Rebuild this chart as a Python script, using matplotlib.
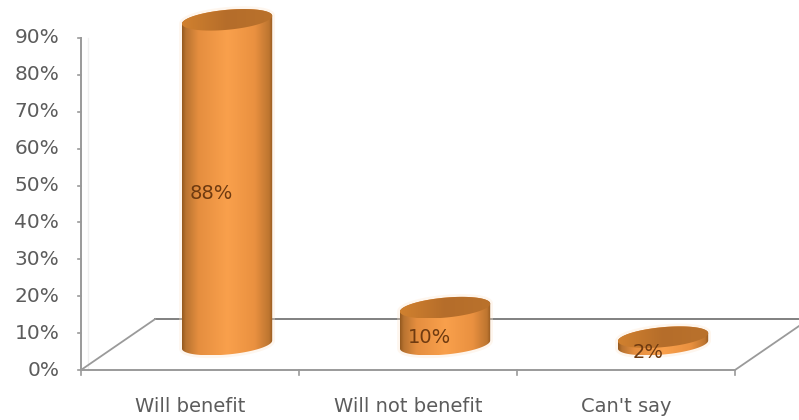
import numpy as np
import matplotlib
matplotlib.use('Agg')
import matplotlib.pyplot as plt
from matplotlib.colors import LinearSegmentedColormap
from matplotlib.patches import Polygon

categories = ["Will benefit", "Will not benefit", "Can't say"]
values = [88, 10, 2]
value_labels = ["88%", "10%", "2%"]
y_ticks = [0, 10, 20, 30, 40, 50, 60, 70, 80, 90]

PX_X = 218.0   # pixels per category
PX_Y = 3.69    # pixels per percent
DEPTH_X = 0.34
DEPTH_Y = 13.8
HALF_W = 0.207
ELL_B = 10.0 / PX_Y
ELL_S = 4.0 / PX_Y

GRAY = '#9a9a9a'
TEXT = '#5c5c5c'

body_cmap = LinearSegmentedColormap.from_list('body', [
    (0.0, '#94591f'), (0.04, '#b87330'), (0.18, '#e58e3f'),
    (0.5, '#f9a04c'), (0.8, '#ea9140'), (0.96, '#bd7530'), (1.0, '#94591f')])
top_cmap = LinearSegmentedColormap.from_list('top', [
    (0.0, '#d1812f'), (0.5, '#b56d2a'), (1.0, '#ba722c')])


def ellipse(cx, cy, start, stop, n=60):
    t = np.linspace(start, stop, n)
    return cx + HALF_W * np.cos(t), cy + ELL_B * np.sin(t) + ELL_S * np.cos(t)


def gradient(ax, cmap, outline, cx, zorder):
    ys = outline[:, 1]
    poly = Polygon(outline, closed=True, fc='none', ec='none', zorder=zorder)
    ax.add_patch(poly)
    im = ax.imshow(np.linspace(0, 1, 256)[None, :], cmap=cmap, aspect='auto',
                   extent=(cx - HALF_W, cx + HALF_W, ys.min(), ys.max()),
                   zorder=zorder, interpolation='bilinear')
    im.set_clip_path(poly)


def cylinder(ax, pos, value):
    cx = pos + DEPTH_X / 2
    base = DEPTH_Y / 2
    top = base + value
    bx, by = ellipse(cx, base, np.pi, 2 * np.pi)
    tx, ty = ellipse(cx, top, 0, np.pi)
    body = np.column_stack((np.r_[bx, tx], np.r_[by, ty]))
    # soft glow from the jpeg original
    ax.add_patch(Polygon(body, closed=True, fc='none', ec='#fde6cf', lw=4,
                         alpha=0.35, zorder=2))
    gradient(ax, body_cmap, body, cx, 3)
    ex, ey = ellipse(cx, top, 0, 2 * np.pi, 120)
    gradient(ax, top_cmap, np.column_stack((ex, ey)), cx, 4)


fig = plt.figure(figsize=(7.99, 4.2), dpi=100)
ax = fig.add_axes([0, 0, 1, 1])

# floor and wall
ax.plot([-0.5, 2.5], [0, 0], color=GRAY, lw=1.4, zorder=1)
ax.plot([-0.5 + DEPTH_X, 2.5 + DEPTH_X], [DEPTH_Y, DEPTH_Y], color='#808080', lw=1.4, zorder=1)
ax.plot([-0.5, -0.5 + DEPTH_X], [0, DEPTH_Y], color=GRAY, lw=1.3, zorder=1)
ax.plot([2.5, 2.5 + DEPTH_X], [0, DEPTH_Y], color=GRAY, lw=1.3, zorder=1)
ax.plot([-0.5, -0.5], [0, y_ticks[-1]], color=GRAY, lw=1.4, zorder=1)
ax.plot([-0.47, -0.47], [0, y_ticks[-1]], color='#f0f0f0', lw=1, zorder=0)

for v in y_ticks:
    ax.plot([-0.515, -0.5], [v, v], color=GRAY, lw=1.2, zorder=1)
    ax.text(-0.6, v, f'{v}%', ha='right', va='center', fontsize=14.5,
            color=TEXT, family='DejaVu Sans')
for b in [-0.5, 0.5, 1.5, 2.5]:
    ax.plot([b, b], [0, -1.3], color=GRAY, lw=1.2, zorder=1)

for i, (cat, val, lab) in enumerate(zip(categories, values, value_labels)):
    cylinder(ax, i, val)
    ax.text(i + DEPTH_X / 2 - 0.07, val / 2 + 3.8, lab, ha='center', va='center',
            fontsize=14, color='#6e3a10', family='DejaVu Sans', zorder=5)
    ax.text(i, -9.8, cat, ha='center', va='center', fontsize=14,
            color=TEXT, family='DejaVu Sans', zorder=5)

ax.set_xlim(-190 / PX_X, (799 - 190) / PX_X)
ax.set_ylim(-50 / PX_Y, 370 / PX_Y)
ax.axis('off')

fig.savefig('out.png', dpi=100)
